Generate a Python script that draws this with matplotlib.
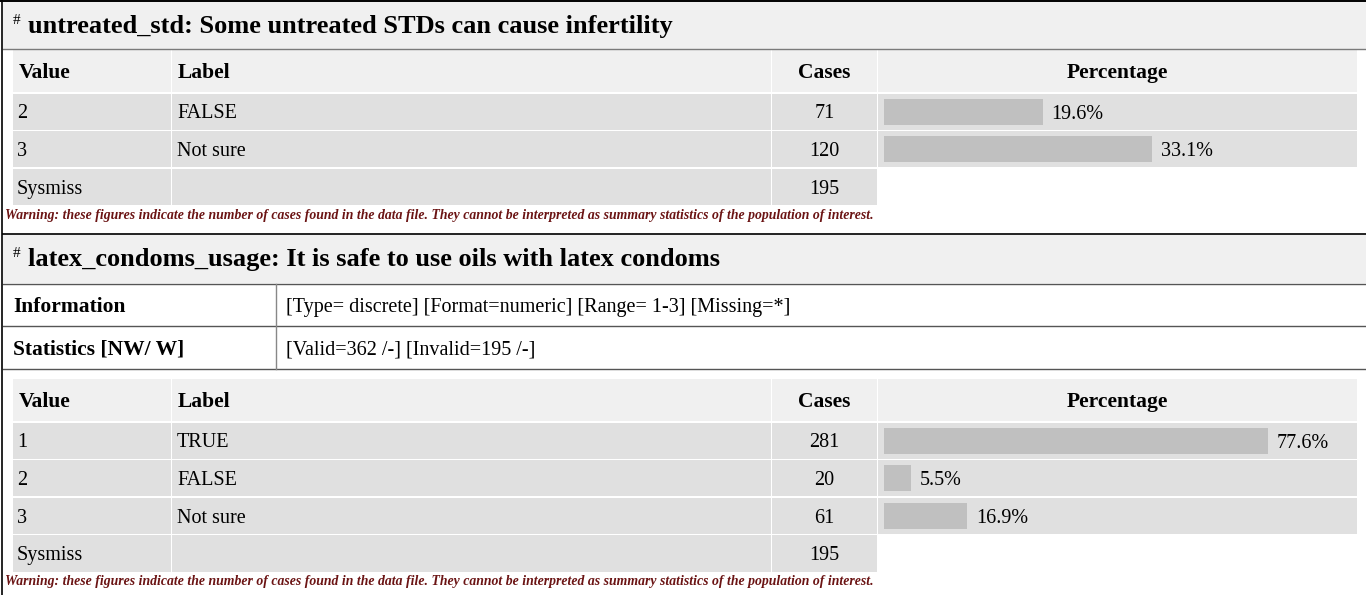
import matplotlib.pyplot as plt
from matplotlib.patches import Rectangle

plt.rcParams['font.family'] = ['Liberation Serif', 'DejaVu Serif']

# ---- data ----
col_names = ["Value", "Label", "Cases", "Percentage"]

std_title = "untreated_std: Some untreated STDs can cause infertility"
std_values = ["2", "3"]
std_labels = ["FALSE", "Not sure"]
std_cases = [71, 120]
std_pct = [19.6, 33.1]
std_sysmiss = 195
std_top_pct = 47.3  # the TRUE row is cut off above, bars are scaled against it

latex_title = "latex_condoms_usage: It is safe to use oils with latex condoms"
latex_info = "[Type= discrete] [Format=numeric] [Range= 1-3] [Missing=*]"
latex_stats = "[Valid=362 /-] [Invalid=195 /-]"
latex_values = ["1", "2", "3"]
latex_labels = ["TRUE", "FALSE", "Not sure"]
latex_cases = [281, 20, 61]
latex_pct = [77.6, 5.5, 16.9]
latex_sysmiss = 195

warning = ("Warning: these figures indicate the number of cases found in the data file. "
           "They cannot be interpreted as summary statistics of the population of interest.")

# ---- page layout in pixels ----
W, H = 1366, 595
cols = [(13, 171), (172, 771), (772, 877), (878, 1357)]
pitch = 37.6
row_h = 36.2
head_bg = "#f0f0f0"
cell_bg = "#e0e0e0"
bar_col = "#c0c0c0"
warn_col = "#6b1414"
fs = 14.5          # normal cell text (pt)
fsb = 15.5         # bold header text (pt)
lift = 0.34 * fs / 0.72   # baseline below the row centre, px

fig = plt.figure(figsize=(W / 100, H / 100), dpi=100)
ax = fig.add_axes([0, 0, 1, 1])
ax.set_xlim(0, W)
ax.set_ylim(H, 0)
ax.axis("off")


def box(x0, y0, x1, y1, color):
    ax.add_patch(Rectangle((x0, y0), x1 - x0, y1 - y0, color=color, lw=0))


def section_title(y0, y1, text):
    box(3, y0, W, y1, head_bg)
    base = y0 + 32
    ax.text(13, base - 9, "#", fontsize=11, va="baseline", ha="left")
    ax.text(28, base, text, fontsize=19, fontweight="bold", va="baseline", ha="left")


def freq_table(top, values, labels, cases, pct, sysmiss, top_pct):
    # header row
    for (x0, x1) in cols:
        box(x0, top, x1, top + 42, head_bg)
    base = top + 21 + 0.34 * fsb / 0.72
    ax.text(19, base, col_names[0], fontsize=fsb, fontweight="bold", va="baseline")
    ax.text(178, base, col_names[1], fontsize=fsb, fontweight="bold", va="baseline")
    ax.text(sum(cols[2]) / 2, base, col_names[2], fontsize=fsb, fontweight="bold",
            va="baseline", ha="center")
    ax.text(sum(cols[3]) / 2, base, col_names[3], fontsize=fsb, fontweight="bold",
            va="baseline", ha="center")

    first = top + 43.5
    rows_v = values + ["Sysmiss"]
    rows_l = labels + [""]
    rows_c = cases + [sysmiss]
    for i in range(len(rows_v)):
        y0 = first + i * pitch
        last = i == len(rows_v) - 1
        for j, (x0, x1) in enumerate(cols):
            if last and j == 3:
                continue
            box(x0, y0, x1, y0 + row_h, cell_bg)
        b = y0 + row_h / 2 + lift
        ax.text(17, b, rows_v[i], fontsize=fs, va="baseline")
        ax.text(177, b, rows_l[i], fontsize=fs, va="baseline")
        ax.text(sum(cols[2]) / 2, b, str(rows_c[i]), fontsize=fs, va="baseline", ha="center")

    # percentage bars in their own axes; the largest bar takes 80% of the cell
    n = len(pct)
    bx0, bx1 = 883.5, 1357
    by0 = first - 0.7
    pax = fig.add_axes([bx0 / W, 1 - (by0 + n * pitch) / H, (bx1 - bx0) / W, n * pitch / H])
    xmax = top_pct * (bx1 - bx0) / 384
    pax.set_xlim(0, xmax)
    pax.set_ylim(n - 0.5, -0.5)
    pax.axis("off")
    pax.barh(range(n), pct, height=26 / pitch, color=bar_col, lw=0)
    off = 9 * xmax / (bx1 - bx0)
    for i, p in enumerate(pct):
        pax.text(p + off, i, f"{p:.1f}%", fontsize=fs, va="center_baseline", ha="left")

    wy = first + len(rows_v) * pitch + 9
    ax.text(5, wy, warning, fontsize=9.9, fontweight="bold", fontstyle="italic",
            color=warn_col, va="center")


# section 1
section_title(1, 49, std_title)
ax.plot([3, W], [49, 49], color="#7a7a7a", lw=1)
freq_table(50, std_values, std_labels, std_cases, std_pct, std_sysmiss, std_top_pct)

# section 2
section_title(234, 283, latex_title)
ax.plot([3, W], [233.5, 233.5], color="#222222", lw=1.4)
ax.plot([3, W], [283.5, 283.5], color="#555555", lw=1)
ax.plot([3, W], [326, 326], color="#555555", lw=1)
ax.plot([3, W], [369, 369], color="#555555", lw=1)
ax.plot([276, 276], [284, 369], color="#888888", lw=1)
ax.text(13, 305 + lift, "Information", fontsize=fsb, fontweight="bold", va="baseline")
ax.text(286, 305 + lift, latex_info, fontsize=fs, va="baseline")
ax.text(13, 348 + lift, "Statistics [NW/ W]", fontsize=fsb, fontweight="bold", va="baseline")
ax.text(286, 348 + lift, latex_stats, fontsize=fs, va="baseline")
freq_table(379, latex_values, latex_labels, latex_cases, latex_pct, latex_sysmiss, max(latex_pct))

# page borders
ax.plot([0, W], [0.5, 0.5], color="black", lw=1.4)
ax.plot([2, 2], [0, H], color="black", lw=1.2)

fig.savefig("out.png", dpi=100)
